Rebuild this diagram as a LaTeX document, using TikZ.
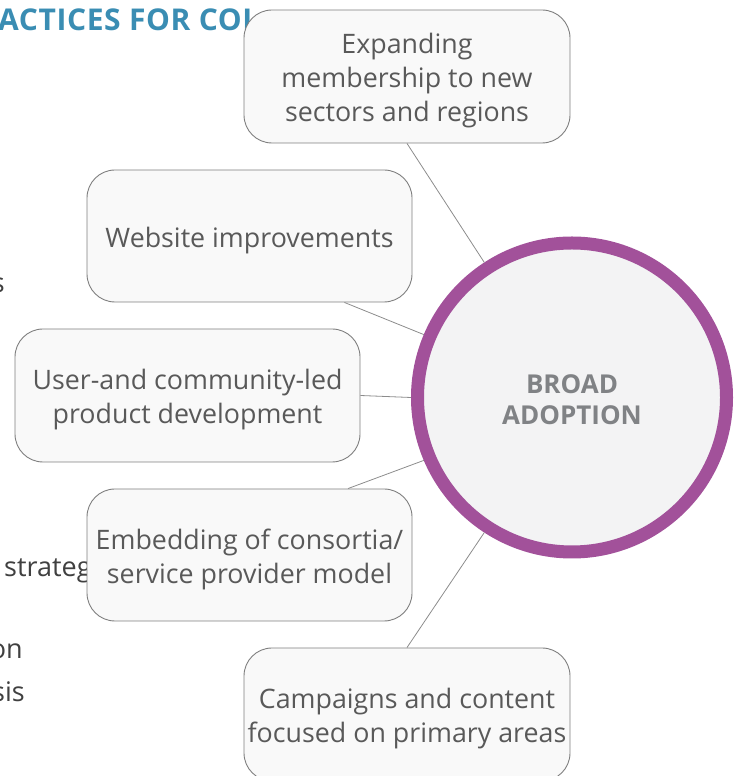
\documentclass[tikz,border=0pt]{standalone}
\usepackage{fontspec}
\setmainfont{Open Sans}

\definecolor{adoptpurple}{HTML}{A2519A}
\definecolor{adoptfill}{HTML}{F3F3F4}
\definecolor{adopttext}{HTML}{808285}
\definecolor{boxfill}{HTML}{F9F9F9}
\definecolor{boxline}{HTML}{7F7F7F}
\definecolor{boxtext}{HTML}{595959}
\definecolor{linkgray}{HTML}{8C8C8C}
\definecolor{headblue}{HTML}{3A8DB3}
\definecolor{bgtext}{HTML}{404040}

% a tall first line pushes the box text a little lower
\newcommand{\boxstrut}{\rule{0pt}{29pt}}

\begin{document}
\begin{tikzpicture}[x=1pt,y=1pt,
    box/.style={draw=boxline, fill=boxfill, line width=0.9pt, rounded corners=28pt,
      minimum width=326pt, minimum height=133pt, align=center, text=boxtext,
      font=\fontsize{26.8}{34}\selectfont},
    link/.style={draw=linkgray, line width=0.8pt},
    backtext/.style={text=bgtext, inner sep=0pt, font=\fontsize{27}{34}\selectfont}]

      \useasboundingbox (0,0) rectangle (737,776);
      \clip (0,0) rectangle (737,776);

      % Page text behind the picture
      \node[anchor=base west, inner sep=0pt, text=headblue,
        font=\bfseries\fontsize{30}{34}\selectfont\addfontfeature{LetterSpace=2}] (head) at (-2,745) {ACTICES FOR COL};
      \node[backtext, anchor=base east] (frag1) at (5,483) {s};
      \node[backtext, anchor=base west] (frag2) at (4,199) {strateg};
      \node[backtext, anchor=base east] (frag3) at (23,117) {on};
      \node[backtext, anchor=base east] (frag4) at (25,74) {sis};

      % Centre circle
      \node[circle, draw=adoptpurple, line width=13pt, fill=adoptfill, minimum size=309pt,
        inner sep=0pt, align=center, text=adopttext,
        font=\bfseries\fontsize{26}{31}\selectfont] (adopt) at (572,378.5) {\rule{0pt}{24pt}BROAD\\ADOPTION};

      % Boxes round the circle
      \node[box] (expand) at (407,699.5) {\boxstrut Expanding\\membership to new\\sectors and regions};
      \node[box, minimum width=325pt, minimum height=132pt] (website) at (249.5,540) {\boxstrut Website improvements};
      \node[box, minimum width=345pt] (userled) at (187.5,380.5) {\boxstrut User-and community-led\\product development};
      \node[box, minimum width=325pt, minimum height=132pt] (embed) at (249.5,221) {\boxstrut Embedding of consortia/\\service provider model};
      \node[box] (campaign) at (407,61.5) {\boxstrut Campaigns and content\\focused on primary areas};

      % Lines to the circle
      \draw[link] (expand.south) -- (adopt.123);
      \draw[link] (website.325) -- (adopt.157);
      \draw[link] (userled.east) -- (adopt.west);
      \draw[link] (embed.34) -- (adopt.203);
      \draw[link] (campaign.north) -- (adopt.237);
  \end{tikzpicture}
\end{document}
